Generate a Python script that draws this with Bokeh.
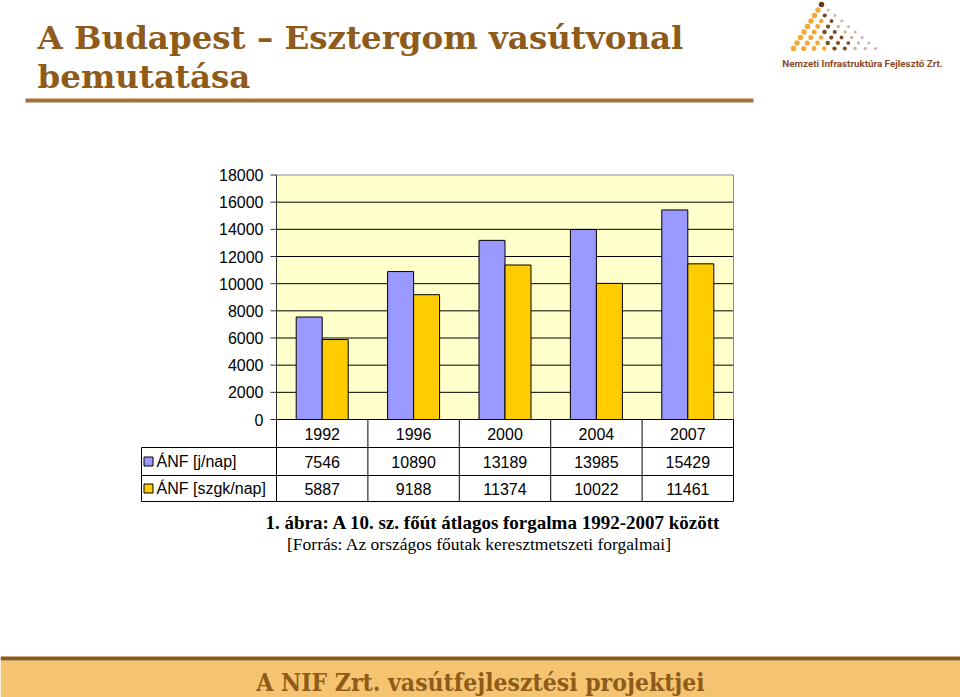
from bokeh.plotting import figure
from bokeh.models import Range1d, ColumnDataSource
from bokeh.core.properties import value
from bokeh.embed import file_html
from bokeh.resources import INLINE

# ---------------- data ----------------
years = ["1992", "1996", "2000", "2004", "2007"]
anf_j = [7546, 10890, 13189, 13985, 15429]        # ÁNF [j/nap]
anf_szgk = [5887, 9188, 11374, 10022, 11461]      # ÁNF [szgk/nap]
series_labels = ["ÁNF [j/nap]", "ÁNF [szgk/nap]"]
y_ticks = [0, 2000, 4000, 6000, 8000, 10000, 12000, 14000, 16000, 18000]
title_lines = ["A Budapest – Esztergom vasútvonal", "bemutatása"]
caption_bold = "1. ábra: A 10. sz. főút átlagos forgalma 1992-2007 között"
caption_src = "[Forrás: Az országos főutak keresztmetszeti forgalmai]"
footer_text = "A NIF Zrt. vasútfejlesztési projektjei"
logo_text = "Nemzeti Infrastruktúra Fejlesztő Zrt."

# ---------------- layout (page pixels) ----------------
W, H = 960, 697
PL, PR, PT, PB = 276, 733, 174.5, 419      # chart plot area
YMAX = y_ticks[-1]
ppv = (PB - PT) / YMAX                      # pixels per value unit
ncat = len(years)
cat_w = (PR - PL) / ncat                    # pixels per category
ROW_Y = [447, 475, 501]                     # table row lines
TABLE_LEFT = 141

BLUE = "#9999FF"
GOLD = "#FFCC00"
BROWN = "#8F5B1A"
SANS = value("Liberation Sans")

p = figure(width=W, height=H, x_range=Range1d(0, W), y_range=Range1d(H, 0),
           x_axis_type=None, y_axis_type=None, toolbar_location=None,
           output_backend="svg", min_border=0, outline_line_color=None,
           background_fill_color="white", border_fill_color="white")
p.extra_y_ranges = {"val": Range1d(start=-(H - PB) / ppv, end=PB / ppv)}
p.extra_x_ranges = {"cat": Range1d(start=-PL / cat_w, end=(W - PL) / cat_w)}

# ---------------- header ----------------
p.text(x=[37], y=[37], text=[title_lines[0]], text_font=value("DejaVu Serif"),
       text_font_style="bold", text_font_size="32.5px", text_color=BROWN,
       text_baseline="middle", text_align="left")
p.text(x=[37], y=[76], text=[title_lines[1]], text_font=value("DejaVu Serif"),
       text_font_style="bold", text_font_size="32.5px", text_color=BROWN,
       text_baseline="middle", text_align="left")
p.segment(x0=[25], y0=[100], x1=[753], y1=[100], line_color="#A5713A", line_width=4)

# logo: triangular dot pattern
lx, ly, lc, ls = [], [], [], []
apex_x, apex_y = 821, 4
nrows = 9
for r in range(nrows):
    yy = apex_y + r * (44 / (nrows - 1))
    left = apex_x - r * (28 / (nrows - 1))
    right = apex_x + r * (54 / (nrows - 1))
    n = r + 1
    for k in range(n):
        t = k / max(n - 1, 1)
        xx = left + (right - left) * t
        lx.append(xx)
        ly.append(yy)
        if r == 0:
            lc.append("#6B3A1A")
        elif t < 0.4:
            lc.append("#F2A93B")
        elif t < 0.75:
            lc.append("#7A4A22")
        else:
            lc.append("#C8B8A0")
        ls.append(5.5 - 2.5 * t)
p.scatter(x=lx, y=ly, size=ls, fill_color=lc, line_color=None, marker="circle")
p.text(x=[862], y=[63], text=[logo_text], text_font=value("Roboto"),
       text_font_style="bold", text_font_size="9.8px", text_color="#8A4A2A",
       text_align="center", text_baseline="middle")

# ---------------- chart ----------------
# plot area background
p.quad(left=[PL], right=[PR], bottom=[0], top=[YMAX], y_range_name="val",
       fill_color="#FFFFCC", line_color=None)
# gridlines
grid_vals = [v for v in y_ticks if 0 < v < YMAX]
p.segment(x0=[PL] * len(grid_vals), x1=[PR] * len(grid_vals), y0=grid_vals, y1=grid_vals,
          y_range_name="val", line_color="#000000", line_width=1)
# plot border (top and right)
p.segment(x0=[PL, PR], x1=[PR, PR], y0=[YMAX, YMAX], y1=[YMAX, 0],
          y_range_name="val", line_color="#8C8C8C", line_width=1)

# bars
bw = 26 / cat_w
src = ColumnDataSource(dict(
    xj=[i + 0.5 - bw / 2 for i in range(ncat)],
    xs=[i + 0.5 + bw / 2 for i in range(ncat)],
    j=anf_j, s=anf_szgk))
p.vbar(x="xj", top="j", bottom=0, width=bw, source=src, x_range_name="cat",
       y_range_name="val", fill_color=BLUE, line_color="#000000", line_width=1)
p.vbar(x="xs", top="s", bottom=0, width=bw, source=src, x_range_name="cat",
       y_range_name="val", fill_color=GOLD, line_color="#000000", line_width=1)

# y axis: line, ticks, labels
p.segment(x0=[PL], x1=[PL], y0=[0], y1=[YMAX], y_range_name="val",
          line_color="#333333", line_width=1)
p.segment(x0=[PL - 6] * len(y_ticks), x1=[PL] * len(y_ticks), y0=y_ticks, y1=y_ticks,
          y_range_name="val", line_color="#333333", line_width=1)
p.segment(x0=[PL], x1=[PR], y0=[0], y1=[0], y_range_name="val",
          line_color="#000000", line_width=1)
p.text(x=[PL - 13] * len(y_ticks), y=y_ticks, text=[str(v) for v in y_ticks],
       y_range_name="val", text_font=SANS, text_font_size="16px",
       text_align="right", text_baseline="middle", text_color="#000000")

# ---------------- data table ----------------
bounds = list(range(ncat + 1))
p.segment(x0=bounds, x1=bounds, y0=[PB] * len(bounds), y1=[ROW_Y[-1]] * len(bounds),
          x_range_name="cat", line_color="#000000", line_width=1)
p.segment(x0=[TABLE_LEFT] * 3, x1=[PR] * 3, y0=ROW_Y, y1=ROW_Y,
          line_color="#000000", line_width=1)
p.segment(x0=[TABLE_LEFT], x1=[TABLE_LEFT], y0=[ROW_Y[0]], y1=[ROW_Y[-1]],
          line_color="#000000", line_width=1)

centers = [i + 0.5 for i in range(ncat)]
row_year_y = (PB + ROW_Y[0]) / 2
row1_y = (ROW_Y[0] + ROW_Y[1]) / 2
row2_y = (ROW_Y[1] + ROW_Y[2]) / 2
p.text(x=centers, y=[row_year_y] * ncat, text=years, x_range_name="cat",
       text_font=SANS, text_font_size="16px", text_align="center",
       text_baseline="middle", text_color="#000000")
p.text(x=centers, y=[row1_y] * ncat, text=[str(v) for v in anf_j], x_range_name="cat",
       text_font=SANS, text_font_size="16px", text_align="center",
       text_baseline="middle", text_color="#000000")
p.text(x=centers, y=[row2_y] * ncat, text=[str(v) for v in anf_szgk], x_range_name="cat",
       text_font=SANS, text_font_size="16px", text_align="center",
       text_baseline="middle", text_color="#000000")

# legend keys and row labels
p.scatter(x=[148, 148], y=[row1_y, row2_y], marker="square", size=9,
          fill_color=[BLUE, GOLD], line_color="#000000", line_width=1)
p.text(x=[156, 156], y=[row1_y, row2_y], text=series_labels, text_font=SANS,
       text_font_size="16px", text_align="left", text_baseline="middle",
       text_color="#000000")

# ---------------- caption ----------------
p.text(x=[493], y=[522], text=[caption_bold], text_font=value("Liberation Serif"),
       text_font_style="bold", text_font_size="19px", text_align="center",
       text_baseline="middle", text_color="#000000")
p.text(x=[479], y=[543], text=[caption_src], text_font=value("Liberation Serif"),
       text_font_size="17.5px", text_align="center", text_baseline="middle",
       text_color="#000000")

# ---------------- footer ----------------
p.quad(left=[0], right=[W], top=[660], bottom=[H], fill_color="#F5C470", line_color=None)
p.segment(x0=[0], x1=[W], y0=[658], y1=[658], line_color="#8B5A14", line_width=4)
p.text(x=[480], y=[682], text=[footer_text], text_font=value("DejaVu Serif Condensed"),
       text_font_style="bold", text_font_size="24.5px", text_color=BROWN,
       text_align="center", text_baseline="middle")

open("out.html", "w").write(file_html(p, INLINE))
